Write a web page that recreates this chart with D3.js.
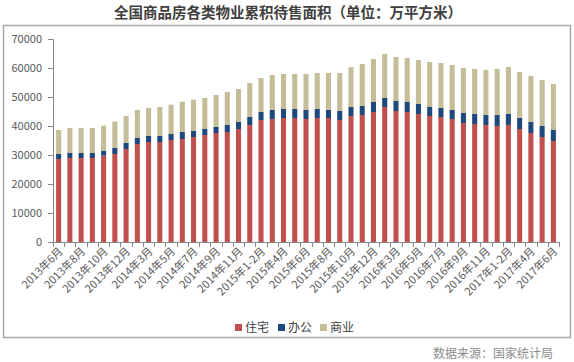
<!DOCTYPE html>
<meta charset="utf-8">
<html>
<head>
<style>
  body { margin: 0; background: #fff; }
  text { font-family: "Microsoft YaHei", "Noto Sans CJK SC", sans-serif; }
  .tick-label { font-size: 11px; fill: #595959; }
</style>
<script src="https://cdn.jsdelivr.net/npm/d3@7/dist/d3.min.js"></script>
</head>
<body>
<div id="chart"></div>
<script>
var months = ["2013年6月","2013年7月","2013年8月","2013年9月","2013年10月","2013年11月","2013年12月",
  "2014年1-2月","2014年3月","2014年4月","2014年5月","2014年6月","2014年7月","2014年8月","2014年9月","2014年10月","2014年11月","2014年12月",
  "2015年1-2月","2015年3月","2015年4月","2015年5月","2015年6月","2015年7月","2015年8月","2015年9月","2015年10月","2015年11月","2015年12月",
  "2016年1-2月","2016年3月","2016年4月","2016年5月","2016年6月","2016年7月","2016年8月","2016年9月","2016年10月","2016年11月","2016年12月",
  "2017年1-2月","2017年3月","2017年4月","2017年5月","2017年6月"];

var zhuzhai = [28620,28970,28970,28970,29770,30350,32070,33790,34480,34480,35170,35520,36210,36900,37590,37930,38970,40350,
  42070,42410,42760,42760,42410,42760,42760,42070,43450,43790,44830,46550,45170,44830,44140,43450,43100,42410,41030,40690,
  40350,40000,40350,38970,37590,36210,34830];
var bangong = [1730,1730,1730,1730,1610,2070,2070,2070,2070,2070,2070,2410,2070,2070,2070,2410,2410,2760,
  2760,3110,3100,3100,3110,3100,2760,3100,3100,3110,3450,3110,3450,3450,3450,3100,3110,3110,3450,3450,
  3450,3790,3790,3790,3790,3790,3790];
var shangye = [8280,8620,8620,8620,8730,9080,9310,9660,9660,10000,10120,10460,10810,10690,11040,11380,11380,11730,
  11720,12070,12070,12070,12410,12420,12760,13110,13800,14480,14830,15180,15170,15180,15180,15520,15510,15510,15520,15520,
  15520,15870,16210,15860,15860,15860,15860];
var yTicks = [0,10000,20000,30000,40000,50000,60000,70000];
var seriesNames = ["住宅","办公","商业"];
var colors = ["#c0504d","#1f497d","#c4bd97"];

var W = 574, H = 362;
var svg = d3.select("#chart").append("svg").attr("width", W).attr("height", H);

svg.append("rect").attr("x", 3.5).attr("y", 25.5).attr("width", 567).attr("height", 312)
  .attr("fill", "none").attr("stroke", "#a6a6a6").attr("stroke-width", 1.5);

svg.append("text").attr("x", 288).attr("y", 18).attr("text-anchor", "middle")
  .attr("textLength", 348).attr("lengthAdjust", "spacing")
  .style("font-size", "14.5px").style("font-weight", "bold").attr("fill", "#404040")
  .text("全国商品房各类物业累积待售面积（单位：万平方米）");

var x = d3.scaleBand().domain(months).range([53, 559]).paddingInner(0.55).paddingOuter(0.275);
var y = d3.scaleLinear().domain([0, 70000]).range([242, 39]);

var rows = months.map(function(m, i) {
  return { month: m, "住宅": zhuzhai[i], "办公": bangong[i], "商业": shangye[i] };
});
var stack = d3.stack().keys(seriesNames)(rows);

svg.selectAll(".layer").data(stack).enter().append("g")
  .attr("fill", function(d, i) { return colors[i]; })
  .selectAll("rect").data(function(d) { return d; }).enter().append("rect")
  .attr("x", function(d) { return x(d.data.month); })
  .attr("width", x.bandwidth())
  .attr("y", function(d) { return y(d[1]); })
  .attr("height", function(d) { return y(d[0]) - y(d[1]); });

// y axis
var yAxis = svg.append("g").attr("transform", "translate(53,0)")
  .call(d3.axisLeft(y).tickValues(yTicks).tickSize(5).tickPadding(6).tickFormat(d3.format("d")));
yAxis.select(".domain").attr("stroke", "#868686");
yAxis.selectAll(".tick line").attr("stroke", "#868686");
yAxis.selectAll(".tick text").attr("class", "tick-label").attr("font-family", null);

// x axis: ticks between categories
var step = x.step();
var xg = svg.append("g");
xg.append("line").attr("x1", 53).attr("x2", 559).attr("y1", 242.5).attr("y2", 242.5).attr("stroke", "#868686");
xg.selectAll(".xt").data(d3.range(months.length + 1)).enter().append("line")
  .attr("x1", function(i) { return Math.round(53 + i * step) + 0.5; })
  .attr("x2", function(i) { return Math.round(53 + i * step) + 0.5; })
  .attr("y1", 242).attr("y2", 247).attr("stroke", "#868686");

xg.selectAll(".xl").data(months.filter(function(d, i) { return i % 2 === 0; })).enter().append("text")
  .attr("class", "tick-label")
  .attr("text-anchor", "end")
  .attr("transform", function(d) {
    return "translate(" + (x(d) + x.bandwidth() / 2 + 5) + ",252) rotate(-45)";
  })
  .text(function(d) { return d; });

// legend
var legendX = [235, 278, 320];
var lg = svg.selectAll(".legend").data(seriesNames).enter().append("g")
  .attr("transform", function(d, i) { return "translate(" + legendX[i] + ",324)"; });
lg.append("rect").attr("width", 7).attr("height", 7).attr("fill", function(d, i) { return colors[i]; });
lg.append("text").attr("x", 10).attr("y", 8).style("font-size", "12px").attr("fill", "#404040")
  .text(function(d) { return d; });

svg.append("text").attr("x", 553).attr("y", 358).attr("text-anchor", "end")
  .style("font-size", "12px").attr("fill", "#8c8c8c").text("数据来源：国家统计局");
</script>
</body>
</html>
